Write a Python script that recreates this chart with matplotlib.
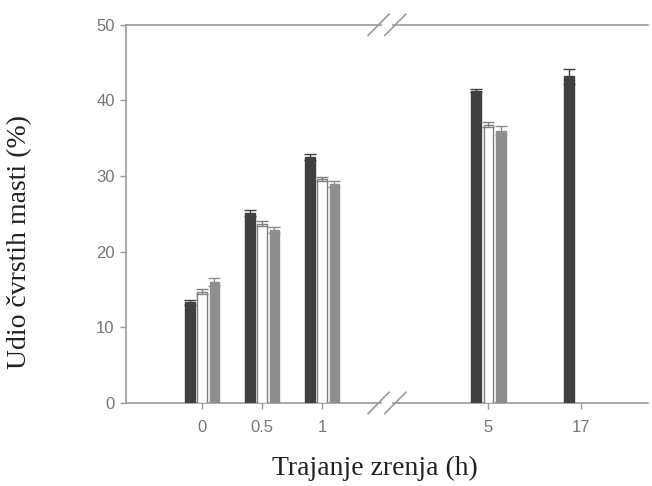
import numpy as np
import matplotlib
matplotlib.use('Agg')
import matplotlib.pyplot as plt
from matplotlib.lines import Line2D

# values
hours = ['0', '0.5', '1', '5', '17']
dark = [13.3, 25.1, 32.5, 41.3, 43.2]
white = [14.7, 23.7, 29.6, 36.8, np.nan]
gray = [16.0, 22.9, 28.9, 36.0, np.nan]
err_dark = [0.3, 0.4, 0.4, 0.2, 1.0]
err_white = [0.3, 0.3, 0.3, 0.3, np.nan]
err_gray = [0.5, 0.4, 0.4, 0.6, np.nan]

# group positions (broken axis between 1 and 5)
pos = np.array([0, 1, 2, 4.77, 6.32])
w = 0.16
off = 0.205

axis_col = '#9a9a9a'
tick_col = '#777777'

fig = plt.figure(figsize=(6.52, 4.86), dpi=100)
ax = fig.add_axes([0.193, 0.171, 0.801, 0.778])

err_kw = dict(elinewidth=1, capsize=4, capthick=1)
ax.bar(pos - off, dark, w, color='#404040', edgecolor='#404040',
       yerr=err_dark, error_kw=dict(ecolor='#404040', **err_kw), zorder=3)
ax.bar(pos, white, w, color='white', edgecolor='#808080', linewidth=1,
       yerr=err_white, error_kw=dict(ecolor='#808080', **err_kw), zorder=3)
ax.bar(pos + off, gray, w, color='#8e8e8e', edgecolor='#8e8e8e',
       yerr=err_gray, error_kw=dict(ecolor='#8e8e8e', **err_kw), zorder=3)

ax.set_xlim(-1.27, 7.43)
ax.set_ylim(0, 50)
ax.set_xticks(pos)
ax.set_xticklabels(hours)
ax.set_yticks([0, 10, 20, 30, 40, 50])

for s in ['top', 'bottom', 'right']:
    ax.spines[s].set_visible(False)
ax.spines['left'].set_color(axis_col)
ax.spines['left'].set_linewidth(1.2)

ax.tick_params(axis='both', colors=axis_col, length=4, width=1, direction='out',
               labelcolor=tick_col, labelsize=12)
for lab in ax.get_xticklabels() + ax.get_yticklabels():
    lab.set_family('Liberation Sans')
ax.tick_params(axis='x', pad=8)
ax.tick_params(axis='y', pad=4)

# top and bottom lines with the break marks
g1, g2 = 0.488, 0.512
for yy in (0, 1):
    ax.add_line(Line2D([0, g1], [yy, yy], transform=ax.transAxes, color=axis_col,
                       lw=1.2, clip_on=False))
    ax.add_line(Line2D([g2, 1], [yy, yy], transform=ax.transAxes, color=axis_col,
                       lw=1.2, clip_on=False))
    for xc in (g1 - 0.004, g2 + 0.004):
        ax.add_line(Line2D([xc - 0.02, xc + 0.02], [yy - 0.028, yy + 0.028],
                           transform=ax.transAxes, color=axis_col, lw=1.2,
                           clip_on=False))

fig.text(20 / 652, 1 - 242 / 486, 'Udio čvrstih masti (%)', rotation=90,
         ha='center', va='center', fontsize=20, family='Liberation Serif',
         color='#222222')
fig.text(375 / 652, 1 - 468 / 486, 'Trajanje zrenja (h)', ha='center', va='center',
         fontsize=20, family='Liberation Serif', color='#222222')

fig.savefig('out.png', dpi=100)
